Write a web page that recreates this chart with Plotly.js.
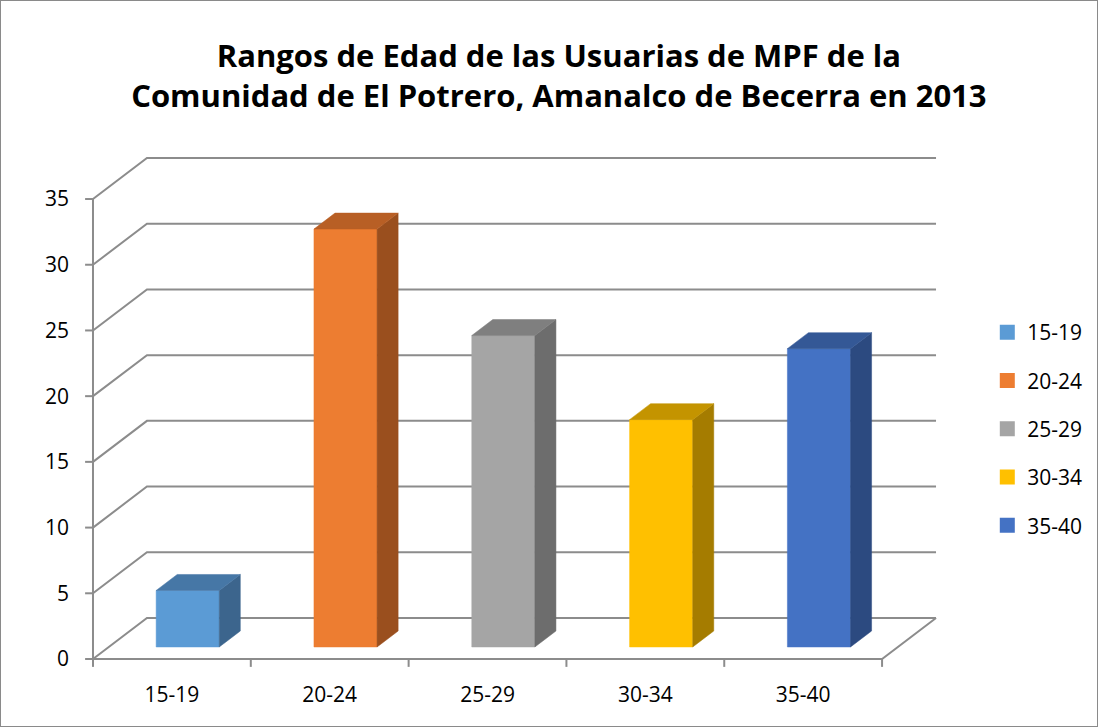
<!DOCTYPE html>
<html><head><meta charset="utf-8">
<script src="https://cdn.plot.ly/plotly-3.0.1.min.js"></script>
<style>
html,body{margin:0;padding:0;background:#fff}
#wrap{position:relative;width:1098px;height:727px}
#chart{width:1098px;height:727px}
#frame{position:absolute;left:0;top:0;width:1098px;height:727px;box-sizing:border-box;border:1px solid #8a8a8a;pointer-events:none}
</style>
</head><body><div id="wrap"><div id="chart"></div><div id="frame"></div></div>
<script>
// ---- data ----
const categories = ['15-19', '20-24', '25-29', '30-34', '35-40'];
const values = [4.3, 31.8, 23.7, 17.3, 22.7];
const yTicks = [0, 5, 10, 15, 20, 25, 30, 35];
const frontColors = ['#5B9BD5', '#ED7D31', '#A5A5A5', '#FFC000', '#4472C4'];
const topColors = ['#4677A6', '#B85F25', '#7F7F7F', '#C49400', '#345896'];
const sideColors = ['#3C658D', '#9A4F1E', '#6D6D6D', '#A57C00', '#2C4A80'];

// ---- 3D projection style ----
const DX = 0.342, DY = 3.12;        // depth offset of back wall (in axis units)
const BAR_F = 0.293, BAR_D = 0.39;  // bar front depth fraction, bar depth fraction
const BAR_W = 0.40;                 // bar width in category units
const GRID = '#8C8C8C', GW = 2;
const n = categories.length;
const xL = -0.5, xR = n - 0.5;

const traces = [];
function line(xs, ys) {
  traces.push({type: 'scatter', mode: 'lines', x: xs, y: ys, line: {color: GRID, width: GW},
    hoverinfo: 'skip', showlegend: false});
}
function poly(xs, ys, color) {
  traces.push({type: 'scatter', mode: 'lines', x: xs.concat([xs[0]]), y: ys.concat([ys[0]]),
    fill: 'toself', fillcolor: color, line: {color: color, width: 0.5},
    hoverinfo: 'skip', showlegend: false});
}
// wall gridlines + diagonals
yTicks.forEach(t => {
  line([xL, xL + DX, xR + DX], [t, t + DY, t + DY]);
  line([xL - 0.05, xL], [t, t]); // tick mark
});
// axis line
line([xL, xL], [0, yTicks[yTicks.length - 1]]);
// floor
line([xL, xR, xR + DX], [0, 0, DY]);
// bottom tick marks
for (let i = 0; i <= n; i++) line([xL + i, xL + i], [0, -0.6]);

// bars
const depthSpan = DY * BAR_D, depthSpanX = DX * BAR_D;
categories.forEach((c, i) => {
  const v = values[i];
  const x0 = i + BAR_F * DX - BAR_W / 2, x1 = i + BAR_F * DX + BAR_W / 2;
  const y0 = BAR_F * DY, y1 = y0 + v;
  poly([x0, x1, x1, x0], [y0, y0, y1, y1], frontColors[i]);
  poly([x1, x1 + depthSpanX, x1 + depthSpanX, x1], [y0, y0 + depthSpan, y1 + depthSpan, y1], sideColors[i]);
  poly([x0, x1, x1 + depthSpanX, x0 + depthSpanX], [y1, y1, y1 + depthSpan, y1 + depthSpan], topColors[i]);
});
// legend entries
categories.forEach((c, i) => {
  traces.push({type: 'scatter', mode: 'markers', x: [null], y: [null], name: c,
    legendgroup: c, marker: {symbol: 'square', size: 15, color: frontColors[i]}, showlegend: true});
});

const FONT = 'Open Sans, sans-serif';
const layout = {
  width: 1098, height: 727,
  margin: {l: 80, r: 158, t: 155, b: 59},
  paper_bgcolor: '#fff', plot_bgcolor: 'rgba(0,0,0,0)',
  font: {family: FONT, color: '#000', size: 20},
  title: {text: '<b>Rangos de Edad de las Usuarias de MPF de la<br>Comunidad de El Potrero, Amanalco de Becerra en 2013</b>',
    font: {family: FONT, size: 31, color: '#000'}, x: 0.509, xref: 'container', xanchor: 'center',
    y: 0.908, yref: 'container', yanchor: 'middle'},
  xaxis: {range: [-0.5823, 4.8608], tickvals: categories.map((c, i) => i), ticktext: categories,
    showgrid: false, zeroline: false, showline: false, ticks: '', ticklabelstandoff: 12,
    tickfont: {size: 21}, fixedrange: true},
  yaxis: {range: [-0.685, 38.35], tickvals: yTicks, ticktext: yTicks.map(String),
    showgrid: false, zeroline: false, showline: false, ticks: '', ticklabelstandoff: 10,
    tickfont: {size: 21}, fixedrange: true},
  legend: {x: 1.055, xanchor: 'left', y: 0.694, yanchor: 'top', traceorder: 'grouped',
    tracegroupgap: 18, font: {size: 21}, bgcolor: 'rgba(0,0,0,0)'},
  showlegend: true
};
Plotly.newPlot('chart', traces, layout, {displayModeBar: false, staticPlot: true});
</script>
</body></html>
